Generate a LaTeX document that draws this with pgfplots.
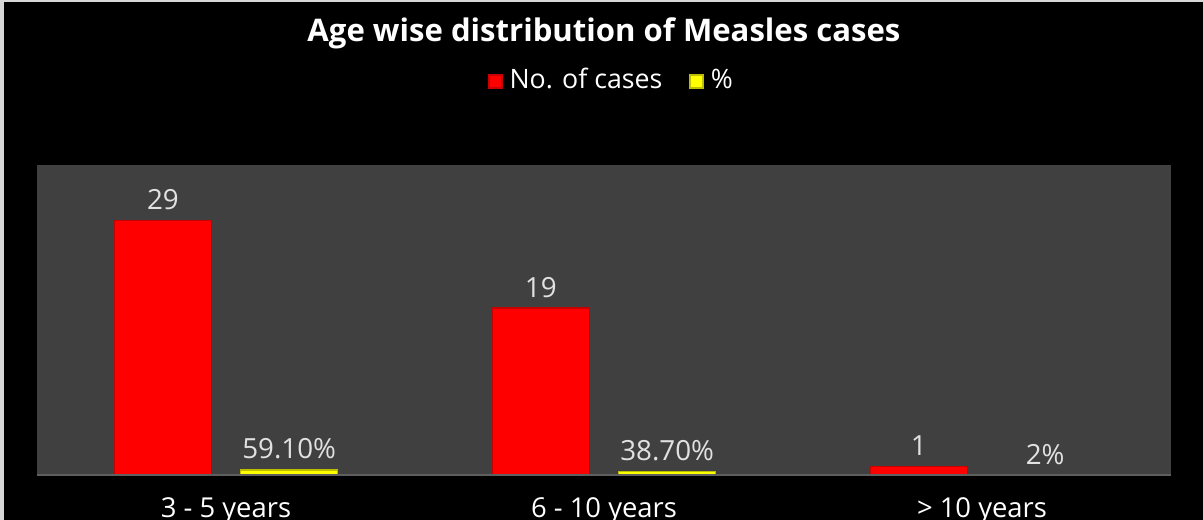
\documentclass[border=0pt]{standalone}
\usepackage{fontspec}
\setmainfont{Open Sans}
\usepackage{xcolor}
\usepackage{pgfplots}
\pgfplotsset{compat=1.18}

\definecolor{plotbg}{RGB}{64,64,64}
\definecolor{baseln}{RGB}{95,95,95}
\definecolor{barred}{RGB}{255,0,0}
\definecolor{baredge}{RGB}{200,0,0}
\definecolor{baryel}{RGB}{255,255,0}
\definecolor{yeledge}{RGB}{190,190,0}
\definecolor{lbl}{RGB}{225,225,225}
\definecolor{frame}{RGB}{215,215,215}

\begin{document}
\begin{tikzpicture}
% page: 1203 x 520 px, 1 px = 0.01 cm
\fill[frame] (0,0) rectangle (12.03,5.20);
\fill[black] (0.04,0) rectangle (12.03,5.18);
\begin{axis}[
    at={(0.37cm,0.45cm)}, anchor=south west,
    scale only axis,
    width=11.34cm, height=3.10cm,
    xmin=-0.5, xmax=2.5,
    ymin=0, ymax=35.3,
    axis background/.style={fill=plotbg},
    axis line style={draw=none},
    ybar, bar width=0.257,
    xtick={0,1,2},
    xticklabels={3 - 5 years, 6 - 10 years, > 10 years},
    ytick=\empty,
    major tick length=0pt,
    xticklabel style={font=\fontsize{7.8}{9}\selectfont, text=white, yshift=-0.10cm},
    /pgf/number format/assume math mode=true,
    title={Age wise distribution of Measles cases},
    every axis title shift=0pt,
    title style={at={(0.5,1.424)}, anchor=center, text=white,
                 font=\fontsize{8.85}{10}\selectfont\bfseries},
    legend columns=2,
    legend style={at={(0.5,1.27)}, anchor=center, xshift=0.1cm, draw=none, fill=none,
                  text=white, font=\fontsize{7.6}{9}\selectfont,
                  /tikz/every even column/.append style={column sep=0.2cm}},
    legend image code/.code={\draw[#1] (0cm,-0.065cm) rectangle (0.13cm,0.065cm);},
    every node near coord/.append style={text=lbl, font=\fontsize{7.9}{9}\selectfont, yshift=-0.02cm},
    after end axis/.code={\draw[baseln, line width=0.02cm] (rel axis cs:0,0) -- (rel axis cs:1,0);},
]
\addplot[fill=barred, draw=baredge, bar shift=-0.167, nodes near coords]
  coordinates {(0,29) (1,19) (2,1)};
\addlegendentry{No. of cases}

\addplot[fill=baryel, draw=yeledge, bar shift=0.167,
         point meta=explicit symbolic, nodes near coords]
  coordinates {(0,0.591) [59.10\%] (1,0.387) [38.70\%] (2,0.02) [2\%]};
\addlegendentry{\%}
\end{axis}
\pgfresetboundingbox
\path[use as bounding box] (0,0) rectangle (12.03,5.20);
\end{tikzpicture}
\end{document}
